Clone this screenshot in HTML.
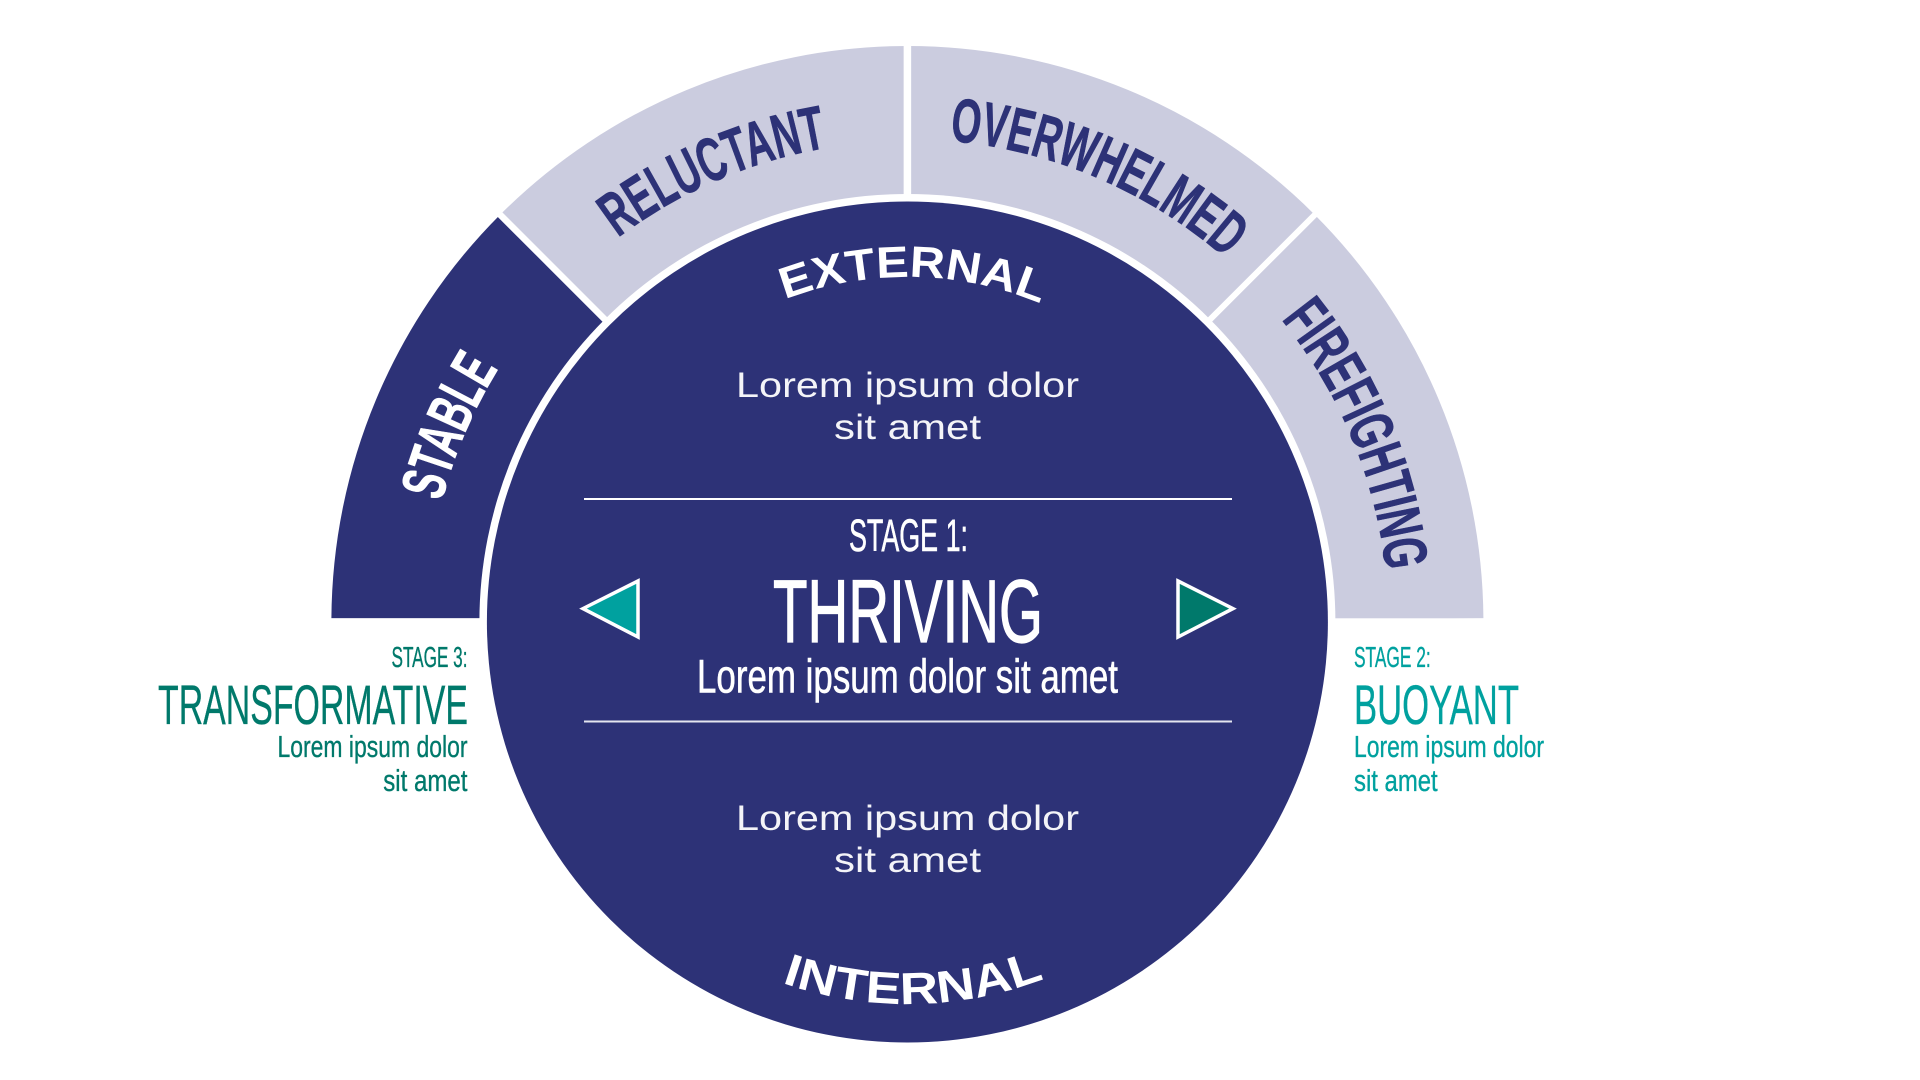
<!DOCTYPE html>
<html lang="en"><head><meta charset="utf-8"><title>Stages diagram</title>
<style>
html,body{margin:0;padding:0;background:#fff;width:1920px;height:1080px;overflow:hidden}
svg{display:block}
text{font-family:"Liberation Sans Narrow","Liberation Sans",sans-serif}
.w{font-family:"Liberation Sans",sans-serif}
</style></head><body>
<svg width="1920" height="1080" viewBox="0 0 1920 1080" xmlns="http://www.w3.org/2000/svg">
<defs>
<path id="pRel" d="M617.9 237.9A481 481 0 0 1 907.4 141"/>
<path id="pOve" d="M949.5 140.8A483 483 0 0 1 1277.4 311.5"/>
<path id="pFir" d="M1281.2 319.3A481 481 0 0 1 1386.6 663.9"/>
<path id="pSta" d="M441.7 501.6A481 481 0 0 1 567.3 281.9"/>
<path id="pExt" d="M784.9 299.5A345 345 0 0 1 1129.2 357.7"/>
<path id="pInt" d="M781.8 982.7A382 382 0 0 0 1098.4 952.8"/>
</defs>
<!-- bands -->
<path d="M331.4 618.3A576 576 0 0 1 500.1 214.7L907.4 622L479.6 618.3Z" fill="#2d3277"/>
<path d="M500.1 214.7A576 576 0 0 1 907.4 46L907.4 622Z" fill="#cbccdf"/>
<path d="M907.4 46A576 576 0 0 1 1314.7 214.7L907.4 622Z" fill="#cbccdf"/>
<path d="M1314.7 214.7A576 576 0 0 1 1483.4 618.3L907.4 622Z" fill="#cbccdf"/>
<g stroke="#fff" fill="none">
<line x1="907.4" y1="622" x2="907.4" y2="30" stroke-width="7.5"/>
<line x1="907.4" y1="622" x2="480" y2="194.6" stroke-width="6.5"/>
<line x1="907.4" y1="622" x2="1335" y2="194.6" stroke-width="6"/>
</g>
<circle cx="907.4" cy="622" r="428" fill="#fff"/>
<rect x="300" y="618.3" width="1220" height="12" fill="#fff"/>
<circle cx="907.4" cy="622" r="420.5" fill="#2d3277"/>
<!-- band labels -->
<g font-weight="700" font-size="62" stroke-width="0.7">
<text fill="#2d3277" stroke="#2d3277"><textPath href="#pRel" textLength="230" lengthAdjust="spacingAndGlyphs">RELUCTANT</textPath></text>
<text fill="#2d3277" stroke="#2d3277"><textPath href="#pOve" textLength="305" lengthAdjust="spacingAndGlyphs">OVERWHELMED</textPath></text>
<text fill="#2d3277" stroke="#2d3277"><textPath href="#pFir" textLength="276" lengthAdjust="spacingAndGlyphs">FIREFIGHTING</textPath></text>
<text fill="#fff" stroke="#fff"><textPath href="#pSta" textLength="145" lengthAdjust="spacingAndGlyphs">STABLE</textPath></text>
</g>
<g font-weight="700" fill="#fff">
<text class="w" font-size="44"><textPath href="#pExt" textLength="262" lengthAdjust="spacingAndGlyphs">EXTERNAL</textPath></text>
<text class="w" font-size="45"><textPath href="#pInt" textLength="268" lengthAdjust="spacingAndGlyphs">INTERNAL</textPath></text>
</g>
<!-- inner paragraphs -->
<g fill="#fff" font-size="35" fill-opacity="0.95">
<text class="w" x="736" y="397" textLength="343" lengthAdjust="spacingAndGlyphs">Lorem ipsum dolor</text>
<text class="w" x="834" y="439" textLength="147" lengthAdjust="spacingAndGlyphs">sit amet</text>
<text class="w" x="736" y="830" textLength="343" lengthAdjust="spacingAndGlyphs">Lorem ipsum dolor</text>
<text class="w" x="834" y="872" textLength="147" lengthAdjust="spacingAndGlyphs">sit amet</text>
</g>
<!-- rules -->
<rect x="584" y="498" width="648" height="2" fill="#fff"/>
<rect x="584" y="720.5" width="648" height="2" fill="#e4e5ef"/>
<!-- center -->
<g fill="#fff" stroke="#fff" stroke-width="0.6">
<text x="849" y="551" font-size="45" textLength="119" lengthAdjust="spacingAndGlyphs">STAGE 1:</text>
<text x="773" y="642" font-size="89" textLength="270" lengthAdjust="spacingAndGlyphs" stroke-width="1.2">THRIVING</text>
<text x="697" y="692.5" font-size="47" textLength="421" lengthAdjust="spacingAndGlyphs">Lorem ipsum dolor sit amet</text>
</g>
<!-- triangles -->
<polygon points="638,581 583,608.6 638,637" fill="#00a19f" stroke="#fff" stroke-width="3.5"/>
<polygon points="1178,581 1233,608.6 1178,637" fill="#00796b" stroke="#fff" stroke-width="3.5"/>
<!-- stage 3 -->
<g fill="#00796b" stroke="#00796b" stroke-width="0.35">
<text x="391.5" y="667" font-size="29" textLength="76" lengthAdjust="spacingAndGlyphs">STAGE 3:</text>
<text x="158" y="724" font-size="56" textLength="310" lengthAdjust="spacingAndGlyphs">TRANSFORMATIVE</text>
<text x="277.5" y="757" font-size="31" textLength="190" lengthAdjust="spacingAndGlyphs">Lorem ipsum dolor</text>
<text x="383.2" y="791" font-size="31" textLength="84.3" lengthAdjust="spacingAndGlyphs">sit amet</text>
</g>
<!-- stage 2 -->
<g fill="#00a19f" stroke="#00a19f" stroke-width="0.35">
<text x="1354" y="667" font-size="29" textLength="76.7" lengthAdjust="spacingAndGlyphs">STAGE 2:</text>
<text x="1354" y="724" font-size="56" textLength="165" lengthAdjust="spacingAndGlyphs">BUOYANT</text>
<text x="1354" y="757" font-size="31" textLength="190" lengthAdjust="spacingAndGlyphs">Lorem ipsum dolor</text>
<text x="1354" y="791" font-size="31" textLength="83.7" lengthAdjust="spacingAndGlyphs">sit amet</text>
</g>
</svg>
</body></html>
